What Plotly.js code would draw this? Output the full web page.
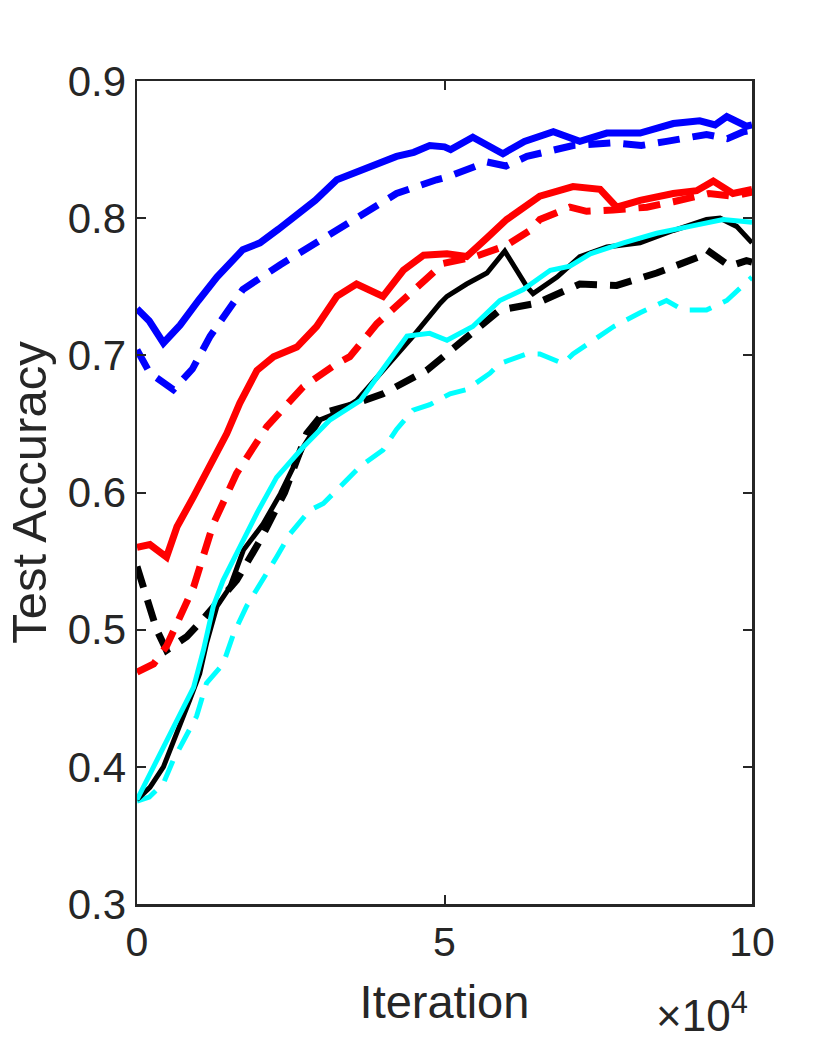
<!DOCTYPE html>
<html>
<head>
<meta charset="utf-8">
<script src="https://cdn.plot.ly/plotly-3.0.1.min.js"></script>
<style>html,body{margin:0;padding:0;background:#fff;}#chart{width:830px;height:1041px;}</style>
</head>
<body>
<div id="chart"></div>
<script>
// x in units of 10^4 iterations
const blueSolidX = [0, 0.2, 0.43, 0.7, 1.0, 1.3, 1.72, 2.0, 2.3, 2.6, 2.9, 3.25, 3.6, 3.9, 4.22, 4.5, 4.76, 5.0, 5.1, 5.46, 5.95, 6.3, 6.77, 7.2, 7.64, 8.18, 8.5, 8.72, 9.15, 9.4, 9.59, 9.91, 10];
const blueSolidY = [0.734, 0.725, 0.709, 0.722, 0.740, 0.757, 0.777, 0.782, 0.792, 0.803, 0.813, 0.828, 0.834, 0.840, 0.845, 0.848, 0.853, 0.852, 0.850, 0.859, 0.847, 0.856, 0.863, 0.856, 0.862, 0.862, 0.866, 0.869, 0.871, 0.868, 0.874, 0.867, 0.868];

const blueDashX = [0, 0.21, 0.59, 0.9, 1.19, 1.72, 2.33, 2.98, 3.57, 4.22, 4.87, 5.04, 5.69, 6.0, 6.34, 7.09, 7.74, 8.2, 8.61, 9.26, 9.6, 9.86, 10];
const blueDashY = [0.704, 0.687, 0.675, 0.690, 0.714, 0.748, 0.766, 0.784, 0.801, 0.818, 0.828, 0.830, 0.841, 0.838, 0.845, 0.853, 0.855, 0.853, 0.856, 0.861, 0.858, 0.863, 0.864];

const redSolidX = [0, 0.21, 0.48, 0.65, 0.92, 1.19, 1.46, 1.67, 1.95, 2.22, 2.6, 2.92, 3.25, 3.57, 4.0, 4.33, 4.66, 5.04, 5.36, 5.7, 6.01, 6.55, 7.09, 7.53, 7.8, 8.18, 8.72, 9.1, 9.37, 9.69, 10];
const redSolidY = [0.560, 0.562, 0.553, 0.575, 0.597, 0.619, 0.643, 0.665, 0.689, 0.699, 0.706, 0.721, 0.743, 0.752, 0.743, 0.762, 0.773, 0.774, 0.772, 0.786, 0.799, 0.816, 0.823, 0.821, 0.808, 0.813, 0.818, 0.820, 0.827, 0.818, 0.821];

const redDashX = [0, 0.27, 0.48, 0.7, 0.92, 1.24, 1.62, 2.11, 2.7, 3.25, 3.46, 3.9, 4.39, 4.6, 4.98, 5.5, 6.0, 6.39, 6.55, 7.04, 7.31, 7.74, 8.29, 8.72, 9.3, 9.7, 10];
const redDashY = [0.469, 0.475, 0.488, 0.509, 0.531, 0.577, 0.614, 0.648, 0.677, 0.694, 0.699, 0.723, 0.743, 0.750, 0.767, 0.772, 0.780, 0.791, 0.799, 0.808, 0.805, 0.806, 0.808, 0.812, 0.818, 0.816, 0.819];

const blackSolidX = [0, 0.21, 0.43, 0.65, 0.86, 1.02, 1.13, 1.30, 1.51, 1.73, 2.05, 2.33, 2.7, 2.98, 3.25, 3.57, 4.0, 4.49, 4.93, 5.04, 5.36, 5.69, 5.98, 6.34, 6.44, 6.83, 7.2, 7.64, 8.18, 8.72, 9.26, 9.48, 9.75, 10];
const blackSolidY = [0.376, 0.385, 0.400, 0.424, 0.449, 0.468, 0.490, 0.517, 0.531, 0.558, 0.577, 0.599, 0.633, 0.653, 0.658, 0.667, 0.689, 0.714, 0.738, 0.743, 0.752, 0.760, 0.776, 0.750, 0.745, 0.757, 0.772, 0.779, 0.782, 0.791, 0.799, 0.800, 0.794, 0.782];

const blackDashX = [0, 0.13, 0.32, 0.48, 0.81, 1.02, 1.3, 1.62, 2.0, 2.4, 2.76, 3.03, 3.5, 4.0, 4.71, 5.25, 5.9, 6.5, 7.2, 7.8, 8.45, 9.15, 9.26, 9.64, 9.91, 10];
const blackDashY = [0.546, 0.526, 0.500, 0.485, 0.495, 0.505, 0.520, 0.536, 0.565, 0.600, 0.643, 0.658, 0.664, 0.672, 0.689, 0.709, 0.733, 0.738, 0.752, 0.751, 0.760, 0.772, 0.777, 0.765, 0.769, 0.768];

const cyanSolidX = [0, 0.32, 0.59, 0.92, 1.08, 1.24, 1.40, 1.67, 1.95, 2.27, 2.70, 3.14, 3.63, 4.0, 4.39, 4.76, 5.04, 5.46, 5.9, 6.28, 6.72, 7.04, 7.37, 7.91, 8.45, 8.99, 9.53, 10];
const cyanSolidY = [0.376, 0.405, 0.429, 0.458, 0.485, 0.517, 0.536, 0.561, 0.585, 0.611, 0.633, 0.653, 0.667, 0.690, 0.714, 0.716, 0.711, 0.721, 0.740, 0.748, 0.762, 0.765, 0.774, 0.782, 0.789, 0.794, 0.799, 0.797];

const cyanDashX = [0, 0.2, 0.43, 0.59, 0.97, 1.13, 1.40, 1.57, 1.78, 2.05, 2.27, 2.49, 2.81, 3.03, 3.36, 3.63, 4.0, 4.22, 4.49, 4.76, 5.09, 5.36, 5.74, 5.9, 6.34, 6.55, 6.93, 7.09, 7.42, 7.75, 8.18, 8.61, 8.88, 9.26, 9.59, 9.94, 10];
const cyanDashY = [0.375, 0.378, 0.388, 0.405, 0.437, 0.461, 0.475, 0.497, 0.517, 0.536, 0.553, 0.570, 0.587, 0.592, 0.607, 0.619, 0.631, 0.646, 0.660, 0.664, 0.672, 0.675, 0.687, 0.694, 0.701, 0.701, 0.694, 0.701, 0.711, 0.721, 0.731, 0.740, 0.733, 0.733, 0.740, 0.755, 0.757];

const xTickVals = [0, 5, 10];
const xTickText = ['0', '5', '10'];
const yTickVals = [0.3, 0.4, 0.5, 0.6, 0.7, 0.8, 0.9];
const yTickText = ['0.3', '0.4', '0.5', '0.6', '0.7', '0.8', '0.9'];

const DASH = '22px,13px';
function tr(x, y, color, width, dash) {
  return {x: x, y: y, type: 'scatter', mode: 'lines', hoverinfo: 'skip',
    line: {color: color, width: width, dash: dash}};
}
const traces = [
  tr(cyanDashX, cyanDashY, '#00FFFF', 5, DASH),
  tr(blackDashX, blackDashY, '#000000', 7, DASH),
  tr(redDashX, redDashY, '#FF0000', 7, DASH),
  tr(blueDashX, blueDashY, '#0000FF', 7, DASH),
  tr(blackSolidX, blackSolidY, '#000000', 5, 'solid'),
  tr(cyanSolidX, cyanSolidY, '#00FFFF', 5, 'solid'),
  tr(redSolidX, redSolidY, '#FF0000', 7, 'solid'),
  tr(blueSolidX, blueSolidY, '#0000FF', 7, 'solid')
];

const FONT = 'Liberation Sans, Arial, Helvetica, sans-serif';
const AX = '#262626';
const layout = {
  width: 830, height: 1041,
  margin: {l: 137, r: 78, t: 81, b: 137},
  paper_bgcolor: '#ffffff', plot_bgcolor: '#ffffff',
  showlegend: false,
  font: {family: FONT, color: AX},
  xaxis: {
    range: [0, 10], tickmode: 'array', tickvals: xTickVals, ticktext: xTickText,
    ticks: 'inside', ticklen: 9, tickwidth: 2, tickcolor: AX,
    showline: true, linewidth: 2.5, linecolor: AX, mirror: 'ticks',
    showgrid: false, zeroline: false,
    tickfont: {size: 41, family: FONT, color: AX},
    title: {text: 'Iteration', font: {size: 47, family: FONT, color: AX}, standoff: 22}
  },
  yaxis: {
    range: [0.3, 0.9], tickmode: 'array', tickvals: yTickVals, ticktext: yTickText,
    ticks: 'inside', ticklen: 9, tickwidth: 2, tickcolor: AX,
    showline: true, linewidth: 2.5, linecolor: AX, mirror: 'ticks',
    showgrid: false, zeroline: false,
    tickfont: {size: 42, family: FONT, color: AX},
    title: {text: 'Test Accuracy', font: {size: 49, family: FONT, color: AX}, standoff: 6}
  },
  annotations: [{
    text: '×10<sup>4</sup>', xref: 'paper', yref: 'paper', x: 1.0, y: 0, xanchor: 'right', yanchor: 'bottom',
    yshift: -138, xshift: -2, showarrow: false, font: {size: 44, family: FONT, color: AX}
  }]
};
Plotly.newPlot('chart', traces, layout, {displayModeBar: false, staticPlot: true});
</script>
</body>
</html>
